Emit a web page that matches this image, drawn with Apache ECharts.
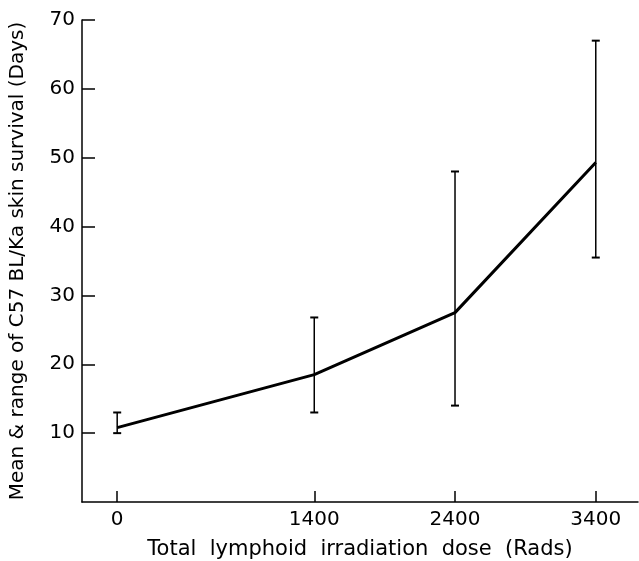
<!DOCTYPE html>
<html>
<head>
<meta charset="utf-8">
<script src="https://cdn.jsdelivr.net/npm/echarts@6/dist/echarts.min.js"></script>
<style>html,body{margin:0;padding:0;background:#fff}#c{width:639px;height:561px}</style>
</head>
<body>
<div id="c"></div>
<script>
const doses = [0, 1400, 2400, 3400];
const means = [10.8, 18.5, 27.5, 49.3];
const lows = [10, 13, 14, 35.5];
const highs = [13, 26.8, 48, 67];
const xTicks = [0, 1400, 2400, 3400];
const yTicks = [10, 20, 30, 40, 50, 60, 70];

const chart = echarts.init(document.getElementById('c'), null, {renderer: 'canvas'});
const font = 'DejaVu Sans';
const ink = '#000';

chart.setOption({
  animation: false,
  backgroundColor: '#fff',
  grid: {left: 82, top: 20, right: 1, bottom: 59, containLabel: false, outerBoundsMode: 'none'},
  xAxis: {
    type: 'value', min: -250, max: 3700,
    name: 'Total  lymphoid  irradiation  dose  (Rads)',
    nameLocation: 'middle', nameGap: 37,
    nameTextStyle: {fontFamily: font, fontSize: 21, color: ink},
    axisLine: {show: true, onZero: false, lineStyle: {color: ink, width: 1.5}},
    axisTick: {show: true, inside: true, length: 11, customValues: xTicks, lineStyle: {color: ink, width: 1.5}},
    axisLabel: {customValues: xTicks, fontFamily: font, fontSize: 20, color: ink, margin: 8,
      formatter: v => String(v)},
    splitLine: {show: false}
  },
  yAxis: {
    type: 'value', min: 0, max: 70,
    name: 'Mean & range of C57 BL/Ka skin survival (Days)',
    nameLocation: 'middle', nameGap: 54,
    nameTextStyle: {fontFamily: font, fontSize: 20, color: ink},
    axisLine: {show: true, onZero: false, lineStyle: {color: ink, width: 1.5}},
    axisTick: {show: true, inside: true, length: 13, customValues: yTicks, lineStyle: {color: ink, width: 1.5}},
    axisLabel: {customValues: yTicks, fontFamily: font, fontSize: 20, color: ink, margin: 7,
      formatter: v => String(v)},
    splitLine: {show: false}
  },
  series: [
    {
      type: 'line',
      data: doses.map((d, i) => [d, means[i]]),
      showSymbol: false,
      lineStyle: {color: ink, width: 3},
      z: 3
    },
    {
      type: 'custom',
      data: doses.map((d, i) => [d, lows[i], highs[i]]),
      renderItem: function (params, api) {
        const x = api.value(0);
        const lo = api.coord([x, api.value(1)]);
        const hi = api.coord([x, api.value(2)]);
        const w = 4;
        return {
          type: 'group',
          children: [
            {type: 'line', shape: {x1: lo[0], y1: lo[1], x2: hi[0], y2: hi[1]}, style: {stroke: ink, lineWidth: 1.5}},
            {type: 'line', shape: {x1: lo[0] - w, y1: lo[1], x2: lo[0] + w, y2: lo[1]}, style: {stroke: ink, lineWidth: 2}},
            {type: 'line', shape: {x1: hi[0] - w, y1: hi[1], x2: hi[0] + w, y2: hi[1]}, style: {stroke: ink, lineWidth: 2}}
          ]
        };
      },
      z: 4
    }
  ]
});
</script>
</body>
</html>
